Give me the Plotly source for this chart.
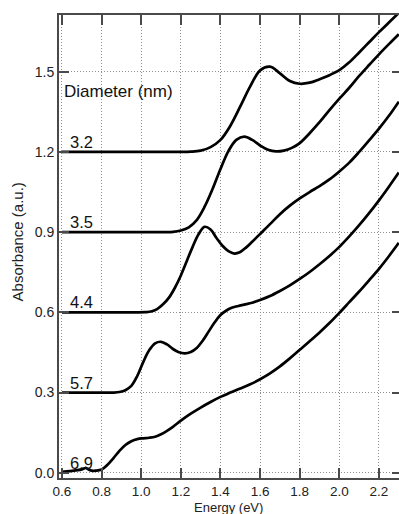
import plotly.graph_objects as go

# Absorption spectra of nanocrystals of different diameters, offset vertically by 0.3
diameters = ["3.2", "3.5", "4.4", "5.7", "6.9"]
offsets = [1.2, 0.9, 0.6, 0.3, 0.0]

energy_32 = [0.60, 1.00, 1.20, 1.25, 1.30, 1.35, 1.40, 1.45, 1.50, 1.55, 1.60, 1.65, 1.70, 1.75, 1.80,
             1.85, 1.90, 1.95, 2.00, 2.05, 2.10, 2.15, 2.20, 2.25, 2.30]
abs_32 = [1.200, 1.200, 1.200, 1.201, 1.205, 1.218, 1.245, 1.298, 1.370, 1.445, 1.505, 1.519, 1.494, 1.465, 1.455,
          1.459, 1.472, 1.487, 1.506, 1.535, 1.572, 1.610, 1.648, 1.684, 1.720]

energy_35 = [0.60, 1.00, 1.16, 1.20, 1.24, 1.28, 1.32, 1.36, 1.40, 1.44, 1.48, 1.52, 1.56, 1.60, 1.64, 1.68,
             1.72, 1.76, 1.80, 1.85, 1.90, 1.95, 2.00, 2.05, 2.10, 2.15, 2.20, 2.25, 2.30]
abs_35 = [0.900, 0.900, 0.901, 0.906, 0.918, 0.945, 0.995, 1.061, 1.136, 1.203, 1.245, 1.257, 1.245, 1.224, 1.208, 1.202,
          1.205, 1.215, 1.233, 1.270, 1.311, 1.356, 1.399, 1.440, 1.484, 1.525, 1.565, 1.603, 1.640]

energy_44 = [0.60, 0.90, 1.02, 1.05, 1.08, 1.11, 1.14, 1.17, 1.20, 1.23, 1.26, 1.29, 1.32, 1.35, 1.38, 1.41,
             1.44, 1.47, 1.50, 1.53, 1.56, 1.59, 1.62, 1.65, 1.70, 1.75, 1.80, 1.85, 1.90, 1.95, 2.00, 2.05,
             2.10, 2.15, 2.20, 2.25, 2.30]
abs_44 = [0.600, 0.600, 0.601, 0.603, 0.612, 0.630, 0.655, 0.692, 0.738, 0.792, 0.846, 0.893, 0.920, 0.910, 0.878, 0.849,
          0.829, 0.820, 0.826, 0.843, 0.864, 0.886, 0.908, 0.930, 0.967, 0.999, 1.026, 1.050, 1.072, 1.097, 1.127, 1.160,
          1.200, 1.243, 1.287, 1.335, 1.388]

energy_57 = [0.60, 0.83, 0.86, 0.89, 0.92, 0.95, 0.98, 1.01, 1.04, 1.07, 1.10, 1.13, 1.16, 1.19, 1.22, 1.25,
             1.28, 1.31, 1.34, 1.37, 1.40, 1.43, 1.46, 1.49, 1.52, 1.56, 1.60, 1.65, 1.70, 1.75, 1.80, 1.85,
             1.90, 1.95, 2.00, 2.05, 2.10, 2.15, 2.20, 2.25, 2.30]
abs_57 = [0.300, 0.300, 0.300, 0.302, 0.309, 0.325, 0.362, 0.414, 0.458, 0.484, 0.490, 0.480, 0.463, 0.451, 0.447, 0.452,
          0.467, 0.494, 0.528, 0.562, 0.590, 0.607, 0.618, 0.624, 0.629, 0.636, 0.646, 0.661, 0.680, 0.701, 0.725, 0.751,
          0.780, 0.811, 0.845, 0.884, 0.926, 0.971, 1.019, 1.070, 1.123]

energy_69 = [0.60, 0.64, 0.68, 0.70, 0.72, 0.735, 0.75, 0.77, 0.80, 0.83, 0.86, 0.89, 0.92, 0.95, 0.98, 1.01,
             1.04, 1.07, 1.10, 1.13, 1.16, 1.20, 1.25, 1.30, 1.35, 1.40, 1.45, 1.50, 1.55, 1.60, 1.65, 1.70,
             1.75, 1.80, 1.85, 1.90, 1.95, 2.00, 2.05, 2.10, 2.15, 2.20, 2.25, 2.30]
abs_69 = [0.004, 0.006, 0.010, 0.013, 0.018, 0.012, 0.008, 0.008, 0.012, 0.030, 0.055, 0.082, 0.104, 0.118, 0.126, 0.129,
          0.131, 0.135, 0.144, 0.157, 0.172, 0.195, 0.221, 0.244, 0.265, 0.284, 0.300, 0.315, 0.331, 0.350, 0.372, 0.398,
          0.428, 0.460, 0.492, 0.525, 0.560, 0.598, 0.638, 0.678, 0.720, 0.763, 0.810, 0.860]

x_ticks = [0.6, 0.8, 1.0, 1.2, 1.4, 1.6, 1.8, 2.0, 2.2]
x_tick_text = ["0.6", "0.8", "1.0", "1.2", "1.4", "1.6", "1.8", "2.0", "2.2"]
y_ticks = [0.0, 0.3, 0.6, 0.9, 1.2, 1.5]
y_tick_text = ["0.0", "0.3", "0.6", "0.9", "1.2", "1.5"]
x_title = "Energy (eV)"
y_title = "Absorbance (a.u.)"

series = [(energy_32, abs_32), (energy_35, abs_35), (energy_44, abs_44),
          (energy_57, abs_57), (energy_69, abs_69)]

FONT = "Liberation Sans, Arial, Helvetica, sans-serif"
AXIS_COLOR = "#4a4a4a"
GRID = dict(showgrid=True, gridcolor="#8f8f8f", gridwidth=1, griddash="1px,2px")
X_RANGE = [0.585, 2.301]
Y_RANGE = [-0.0194, 1.712]

fig = go.Figure()
for (ex, ab), d in zip(series, diameters):
    fig.add_trace(go.Scatter(
        x=ex, y=ab, mode="lines", name=d,
        line=dict(color="black", width=2.7, shape="spline", smoothing=1.0),
        showlegend=False, hoverinfo="skip",
    ))

# invisible trace carrying the right-hand mirror ticks
fig.add_trace(go.Scatter(x=[X_RANGE[0]], y=[0], yaxis="y2", mode="markers",
                         marker=dict(opacity=0), showlegend=False, hoverinfo="skip"))

for d, off in zip(diameters, offsets):
    fig.add_annotation(x=0.628, y=off + 0.037, text=d, showarrow=False,
                       xanchor="left", yanchor="middle",
                       font=dict(family=FONT, size=16.5, color="#111"))

fig.add_annotation(x=0.598, y=1.427, text="Diameter (nm)", showarrow=False,
                   xanchor="left", yanchor="middle",
                   font=dict(family=FONT, size=17, color="#111"))

# axis titles placed in paper coordinates
fig.add_annotation(x=0.498, y=-0.0638, xref="paper", yref="paper", text=x_title,
                   showarrow=False, xanchor="center", yanchor="middle", borderpad=0,
                   font=dict(family=FONT, size=13, color="#222"))
fig.add_annotation(x=-0.122, y=0.51, xref="paper", yref="paper", text=y_title,
                   showarrow=False, xanchor="center", yanchor="middle", textangle=-90,
                   font=dict(family=FONT, size=15, color="#222"))

fig.update_layout(
    width=399, height=514,
    margin=dict(l=58.5, r=0, t=15, b=36),
    paper_bgcolor="white", plot_bgcolor="white",
    font=dict(family=FONT, color="#222"),
    xaxis=dict(
        range=X_RANGE, tickvals=x_ticks, ticktext=x_tick_text, automargin=False,
        ticks="inside", ticklen=10, tickwidth=2, tickcolor=AXIS_COLOR,
        showline=True, linecolor=AXIS_COLOR, linewidth=2, mirror="ticks",
        zeroline=False, tickfont=dict(family=FONT, size=13.5, color="#222"),
        **GRID,
    ),
    yaxis=dict(
        range=Y_RANGE, tickvals=y_ticks, ticktext=y_tick_text, automargin=False,
        ticks="inside", ticklen=10, tickwidth=2, tickcolor=AXIS_COLOR,
        showline=True, linecolor=AXIS_COLOR, linewidth=2,
        zeroline=False, tickfont=dict(family=FONT, size=14, color="#222"),
        **GRID,
    ),
    yaxis2=dict(
        range=Y_RANGE, overlaying="y", side="right", tickvals=y_ticks, automargin=False,
        ticks="inside", ticklen=7, tickwidth=2, tickcolor=AXIS_COLOR,
        showticklabels=False, showline=False, showgrid=False, zeroline=False,
    ),
)

fig.write_html("out.html")
